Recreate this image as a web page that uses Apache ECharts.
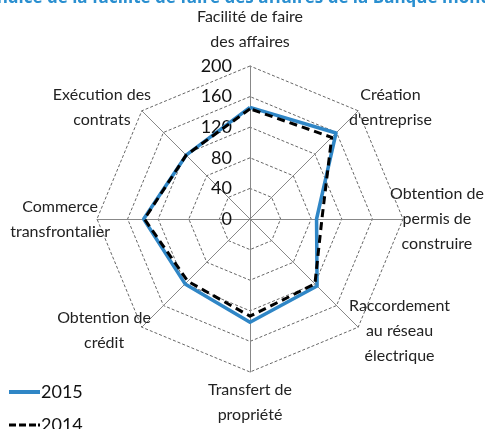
<!DOCTYPE html>
<html lang="fr">
<head>
    <meta charset="UTF-8">
    <title>Facilité de faire des affaires</title>
    <script src="https://cdn.jsdelivr.net/npm/echarts@6/dist/echarts.min.js"></script>
    <style>
        html, body { margin: 0; padding: 0; background: #fff; }
        #main { width: 485px; height: 429px; }
    </style>
</head>
<body>
<div id="main"></div>
<script>
    // axes dans le sens horaire, en partant du haut
    var axes = ['Facilité de faire\ndes affaires', 'Création\nd\'entreprise', 'Obtention de\npermis de\nconstruire',
        'Raccordement\nau réseau\nélectrique', 'Transfert de\npropriété', 'Obtention de\ncrédit',
        'Commerce\ntransfrontalier', 'Exécution des\ncontrats'];
    var values2015 = [146, 159, 87, 124, 135, 120, 139, 118];
    var values2014 = [144, 151, 94, 120, 127, 115, 138, 118];
    var ticks = [0, 40, 80, 120, 160, 200];
    var seriesNames = ['2015', '2014'];

    var FONT = 'Lato, "Open Sans", sans-serif';

    // echarts tourne dans le sens anti-horaire -> on garde le premier et on inverse le reste
    function ccw(arr) {
        return [arr[0]].concat(arr.slice(1).reverse());
    }

    // lignes centrées + une ligne vide pour décaler le bloc (haut / bas)
    function nameFormatter(name) {
        var k = axes.indexOf(name);
        var lines = name.split('\n').map(function (l) { return '{c|' + l + '}'; });
        if (k === 0 || k === 1 || k === 7) lines.push('{c| }');
        if (k === 3 || k === 5) lines.unshift('{c| }');
        if (k === 4) lines.unshift('{s| }');
        return lines.join('\n');
    }

    var center = [250, 219];
    var radius = 153;

    var option = {
        animation: false,
        graphic: [{
            type: 'text',
            left: -9,
            top: -10,
            style: {
                text: 'Indice de la facilité de faire des affaires de la Banque mondiale',
                font: 'bold 17px "Open Sans"',
                fill: '#2a8fd0'
            }
        }],
        legend: {
            orient: 'vertical',
            left: 4,
            top: 378,
            height: 120,
            itemWidth: 31,
            itemHeight: 4,
            itemGap: 15,
            textStyle: { fontSize: 18, color: '#111', fontFamily: FONT, padding: [0, 0, 0, -4] },
            data: [
                { name: seriesNames[0], icon: 'rect', itemStyle: { color: '#2f86c6' } },
                { name: seriesNames[1], icon: 'path://M0,0h7v3h-7z M10,0h7v3h-7z M20,0h7v3h-7z M29,0h2v3h-2z',
                    itemStyle: { color: '#000' } }
            ]
        },
        radar: {
            center: center,
            radius: radius,
            startAngle: 90,
            shape: 'polygon',
            splitNumber: 5,
            indicator: ccw(axes).map(function (n) { return { name: n, min: 0, max: 200 }; }),
            axisName: {
                formatter: nameFormatter,
                rich: {
                    c: { align: 'center', color: '#222', fontSize: 16, lineHeight: 25, fontFamily: FONT },
                    s: { align: 'center', fontSize: 16, lineHeight: 18, fontFamily: FONT }
                }
            },
            nameGap: -13,
            axisLine: { lineStyle: { color: '#888', width: 1 } },
            splitLine: { lineStyle: { color: '#666', width: 1, type: [3, 2] } },
            splitArea: { show: false }
        },
        polar: { center: center, radius: radius },
        angleAxis: { show: false, startAngle: 90, min: 0, max: 360 },
        radiusAxis: {
            min: 0, max: 200, interval: 40,
            axisLine: { show: false },
            axisTick: { show: false },
            splitLine: { show: false },
            axisLabel: { fontSize: 18, color: '#111', fontFamily: FONT, margin: 18, padding: [5, 0, 0, 0],
                formatter: function (v) { return ticks.indexOf(v) >= 0 ? String(v) : ''; } }
        },
        series: [{
            type: 'radar',
            symbol: 'none',
            data: [{
                name: seriesNames[0],
                value: ccw(values2015),
                lineStyle: { color: '#2f86c6', width: 3.5 },
                itemStyle: { color: '#2f86c6' }
            }, {
                name: seriesNames[1],
                value: ccw(values2014),
                lineStyle: { color: '#000', width: 3, type: [8, 5] },
                itemStyle: { color: '#000' }
            }]
        }]
    };

    var myChart = echarts.init(document.getElementById('main'));
    myChart.setOption(option);
</script>
</body>
</html>
